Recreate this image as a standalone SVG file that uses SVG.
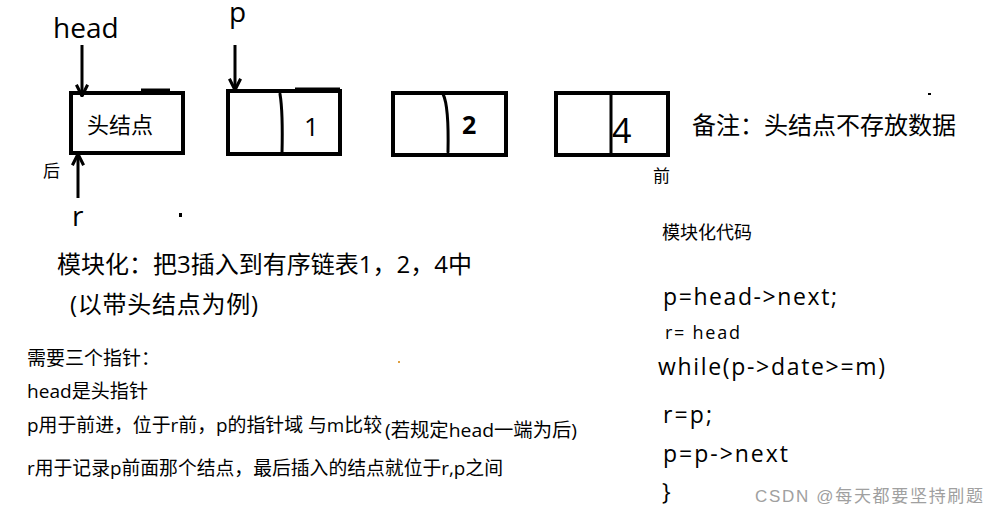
<svg xmlns="http://www.w3.org/2000/svg" width="1000" height="515" viewBox="0 0 1000 515">
<style>
text{font-family:"Open Sans","Noto Sans CJK SC",sans-serif;fill:#000}
.box{fill:none;stroke:#000;stroke-width:4}
.div{fill:none;stroke:#000;stroke-width:3;stroke-linecap:round}
.arr{fill:none;stroke:#000;stroke-width:3;marker-end:url(#ah)}
.big{font-size:28px}
.mid{font-size:24px}
.sm{font-size:17px}
.note{font-size:19px}
.code{font-size:23px}
.wm{font-size:17px;fill:#a0a0a0;font-family:"Liberation Sans","Noto Sans CJK SC",sans-serif}
</style>
<defs>
<marker id="ah" viewBox="0 0 10 10" refX="9" refY="5" markerWidth="14" markerHeight="14" markerUnits="userSpaceOnUse" orient="auto">
<path d="M1,1 L9,5 L1,9" fill="none" stroke="#000" stroke-width="2.2"/>
</marker>
</defs>
<rect width="1000" height="515" fill="#fff"/>

<g id="labels">
<text class="big" x="53" y="38">head</text>
<text class="big" x="229" y="22">p</text>
<text class="big" x="72" y="226">r</text>
<text class="sm" x="43" y="177">后</text>
<text class="sm" x="653" y="182">前</text>
<text class="mid" x="692" y="134">备注：头结点不存放数据</text>
</g>

<g id="node-head">
<rect class="box" x="71" y="93" width="112" height="60"/>
<line x1="141" y1="90" x2="170" y2="90" stroke="#000" stroke-width="3"/>
<text x="87" y="133" style="font-size:22px">头结点</text>
</g>

<g id="node-1">
<rect class="box" x="228" y="91" width="112" height="63"/>
<line x1="295" y1="89" x2="340" y2="89" stroke="#000" stroke-width="3"/>
<path class="div" d="M280,94 Q283,112 282,153"/>
<text x="304" y="136" style="font-size:26px">1</text>
</g>

<g id="node-2">
<rect class="box" x="393" y="93" width="113" height="62"/>
<path class="div" d="M443,94 Q449,106 448,152"/>
<text x="462" y="134" style="font-size:25px;font-weight:bold">2</text>
</g>

<g id="node-4">
<rect class="box" x="556" y="93" width="112" height="62"/>
<line class="div" x1="611" y1="94" x2="611" y2="154"/>
<text x="612" y="143" style="font-size:34px">4</text>
</g>

<g id="connectors">
<line class="arr" x1="82" y1="45" x2="82" y2="96"/>
<line class="arr" x1="235" y1="45" x2="235" y2="90"/>
<line class="arr" x1="78" y1="198" x2="78" y2="154"/>
</g>

<g id="notes">
<text class="mid" x="57" y="273">模块化：把3插入到有序链表1，2，4中</text>
<text class="mid" x="70" y="313" textLength="188" lengthAdjust="spacing">(以带头结点为例)</text>
<text class="note" x="27" y="365">需要三个指针：</text>
<text class="note" x="27" y="398" textLength="121" lengthAdjust="spacingAndGlyphs">head是头指针</text>
<text class="note" x="27" y="432" textLength="355" lengthAdjust="spacingAndGlyphs">p用于前进，位于r前，p的指针域 与m比较</text>
<text class="note" x="385" y="437" textLength="192" lengthAdjust="spacingAndGlyphs">(若规定head一端为后)</text>
<text class="note" x="27" y="475" textLength="476" lengthAdjust="spacingAndGlyphs">r用于记录p前面那个结点，最后插入的结点就位于r,p之间</text>
</g>

<g id="code">
<text x="662" y="239" style="font-size:18px">模块化代码</text>
<text class="code" x="663" y="305" textLength="174" lengthAdjust="spacing">p=head-&gt;next;</text>
<text x="665" y="339" style="font-size:18px" textLength="75" lengthAdjust="spacing">r= head</text>
<text class="code" x="658" y="375" textLength="227" lengthAdjust="spacing">while(p-&gt;date&gt;=m)</text>
<text class="code" x="663" y="423" textLength="49" lengthAdjust="spacing">r=p;</text>
<text class="code" x="663" y="462" textLength="125" lengthAdjust="spacing">p=p-&gt;next</text>
<text class="code" x="662" y="500">}</text>
</g>

<text class="wm" x="755" y="502" textLength="228" lengthAdjust="spacing">CSDN @每天都要坚持刷题</text>

<rect x="179" y="213" width="3" height="4" fill="#000"/>
<rect x="928" y="93" width="3" height="2" fill="#000"/>
<rect x="398" y="361" width="2" height="2" fill="#e0a040"/>
</svg>
